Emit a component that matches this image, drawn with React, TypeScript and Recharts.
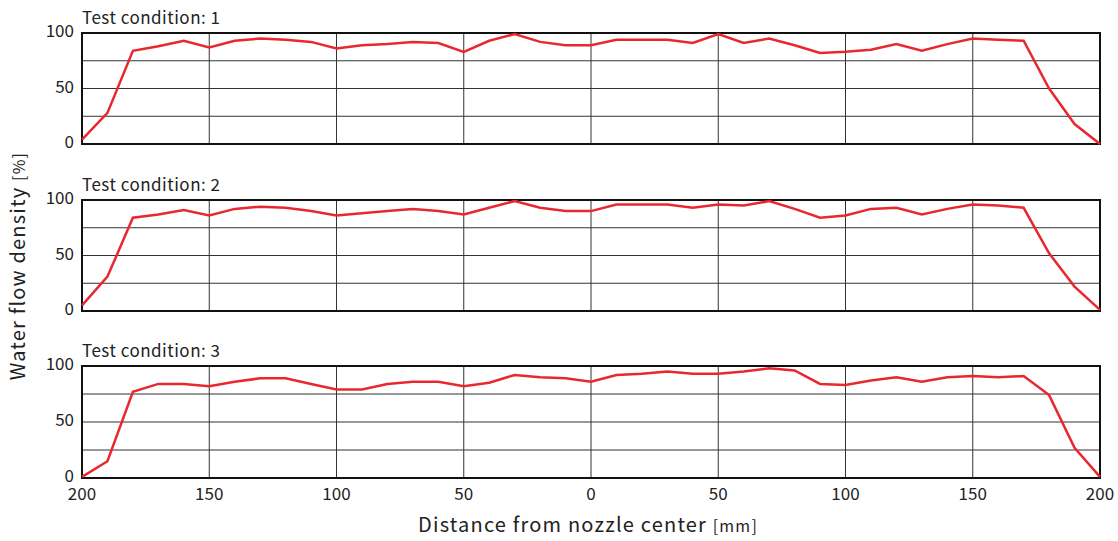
import React from 'react';
import { LineChart, Line, XAxis, YAxis, CartesianGrid, ReferenceArea } from 'recharts';

const distance = [
  -200, -190, -180, -170, -160, -150, -140, -130, -120, -110,
  -100, -90, -80, -70, -60, -50, -40, -30, -20, -10,
  0, 10, 20, 30, 40, 50, 60, 70, 80, 90,
  100, 110, 120, 130, 140, 150, 160, 170, 180, 190, 200,
];

const cond1 = [
  4, 28, 84, 88, 93, 87, 93, 95, 94, 92,
  86, 89, 90, 92, 91, 83, 93, 99, 92, 89,
  89, 94, 94, 94, 91, 99, 91, 95, 89, 82,
  83, 85, 90, 84, 90, 95, 94, 93, 50, 18, 0,
];

const cond2 = [
  5, 31, 84, 87, 91, 86, 92, 94, 93, 90,
  86, 88, 90, 92, 90, 87, 93, 99, 93, 90,
  90, 96, 96, 96, 93, 96, 95, 99, 92, 84,
  86, 92, 93, 87, 92, 96, 95, 93, 52, 22, 1,
];

const cond3 = [
  1, 15, 77, 84, 84, 82, 86, 89, 89, 84,
  79, 79, 84, 86, 86, 82, 85, 92, 90, 89,
  86, 92, 93, 95, 93, 93, 95, 98, 96, 84,
  83, 87, 90, 86, 90, 91, 90, 91, 74, 27, 1,
];

const xTicks = [-200, -150, -100, -50, 0, 50, 100, 150, 200];
const yTicks = [0, 50, 100];
const gridY = [0, 25, 50, 75, 100];

const panels = [
  { title: 'Test condition: 1', values: cond1 },
  { title: 'Test condition: 2', values: cond2 },
  { title: 'Test condition: 3', values: cond3 },
];

const FONT = '"Noto Sans CJK JP", "Noto Sans", sans-serif';

const Panel = ({ title, values, last }: { title: string; values: number[]; last: boolean }) => {
  const data = distance.map((d, i) => ({ d, v: values[i] }));
  return (
    <div style={{ position: 'relative' }}>
      <div style={{ position: 'absolute', left: 82, top: 4, fontSize: 17, letterSpacing: 0.5, color: '#222', fontFamily: FONT }}>
        {title}
      </div>
      <LineChart
        width={1118}
        height={last ? 175 : 152}
        data={data}
        margin={{ top: 33, right: 18, bottom: last ? 0 : 8, left: 0 }}
      >
        <CartesianGrid
          stroke="#333"
          strokeWidth={1}
          horizontalValues={gridY}
          verticalValues={xTicks}
        />
        <XAxis
          dataKey="d"
          type="number"
          domain={[-200, 200]}
          ticks={xTicks}
          hide={!last}
          height={30}
          axisLine={false}
          tickLine={false}
          tickFormatter={(t: number) => String(Math.abs(t))}
          tick={{ fill: '#222', fontSize: 17, fontFamily: FONT, dy: 2 }}
          interval={0}
        />
        <YAxis
          type="number"
          domain={[0, 100]}
          ticks={yTicks}
          width={82}
          axisLine={false}
          tickLine={false}
          tick={{ fill: '#222', fontSize: 17, fontFamily: FONT, dy: -2 }}
          interval={0}
        />
        <ReferenceArea x1={-200} x2={200} y1={0} y2={100} fill="none" stroke="#111" strokeWidth={2} />
        <Line
          dataKey="v"
          type="linear"
          stroke="#e8282e"
          strokeWidth={2.5}
          dot={false}
          isAnimationActive={false}
        />
      </LineChart>
    </div>
  );
};

const App = () => {
  return (
    <div style={{ position: 'absolute', left: 0, top: 0, width: 1118, height: 541, background: '#fff', fontFamily: FONT }}>
      <div style={{ position: 'absolute', left: 0, top: 0 }}>
        <Panel {...panels[0]} last={false} />
      </div>
      <div style={{ position: 'absolute', left: 0, top: 167 }}>
        <Panel {...panels[1]} last={false} />
      </div>
      <div style={{ position: 'absolute', left: 0, top: 333 }}>
        <Panel {...panels[2]} last={true} />
      </div>
      <svg width={1118} height={541} style={{ position: 'absolute', left: 0, top: 0, pointerEvents: 'none' }}>
        <text
          x={0}
          y={0}
          transform="translate(25,266) rotate(-90)"
          textAnchor="middle"
          fontSize={20}
          fill="#222"
          fontFamily={FONT}
          letterSpacing={1.2}
        >
          Water flow density <tspan fontSize={16}>[%]</tspan>
        </text>
        <text x={588} y={532} textAnchor="middle" fontSize={20} fill="#222" fontFamily={FONT} letterSpacing={1.2}>
          Distance from nozzle center <tspan fontSize={16}>[mm]</tspan>
        </text>
      </svg>
    </div>
  );
};

export default App;
